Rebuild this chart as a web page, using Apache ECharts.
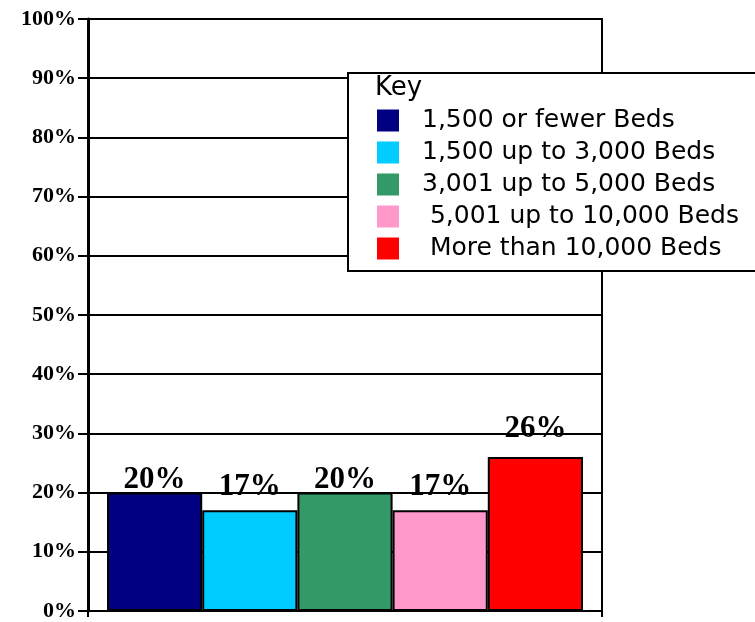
<!DOCTYPE html>
<html>
<head>
<meta charset="utf-8">
<script src="https://cdn.jsdelivr.net/npm/echarts@6/dist/echarts.min.js"></script>
<style>html,body{margin:0;padding:0;background:#fff;}#c{width:755px;height:622px;}</style>
</head>
<body>
<div id="c"></div>
<script>
const categories = ['Beds'];
const seriesNames = ['1,500 or fewer Beds', '1,500 up to 3,000 Beds', '3,001 up to 5,000 Beds', ' 5,001 up to 10,000 Beds', ' More than 10,000 Beds'];
const values = [20, 17, 20, 17, 26];
const colors = ['#000080', '#00CCFF', '#339966', '#FF99CC', '#FF0000'];
const labelDistances = [-3, 8, -3, 8, 13];
const legendTitle = 'Key';

const chart = echarts.init(document.getElementById('c'), null, {renderer: 'canvas'});
const serif = '"Liberation Serif", "Times New Roman", serif';
const sans = '"DejaVu Sans", Verdana, sans-serif';

const series = seriesNames.map((name, i) => ({
  name: name,
  type: 'bar',
  data: [values[i]],
  barGap: '0%',
  barCategoryGap: '7.4%',
  itemStyle: {color: colors[i], borderColor: '#000', borderWidth: 2},
  label: {
    show: true,
    position: 'top',
    distance: labelDistances[i],
    formatter: '{c}%',
    fontFamily: serif,
    fontWeight: 'bold',
    fontSize: 31,
    color: '#000'
  },
  emphasis: {disabled: true}
}));

chart.setOption({
  animation: false,
  color: colors,
  grid: {left: 88, right: 153, top: 19, bottom: 8, show: true, borderColor: '#000', borderWidth: 2, containLabel: false},
  xAxis: {
    type: 'category',
    data: categories,
    axisLine: {lineStyle: {color: '#000', width: 2}},
    axisTick: {show: true, length: 6, lineStyle: {color: '#000', width: 2}},
    axisLabel: {show: false}
  },
  yAxis: {
    type: 'value',
    min: 0, max: 100, interval: 10,
    axisLine: {show: true, lineStyle: {color: '#000', width: 3}},
    axisTick: {show: true, length: 10, lineStyle: {color: '#000', width: 2}},
    splitLine: {lineStyle: {color: '#000', width: 2}},
    axisLabel: {
      formatter: '{value}%',
      fontFamily: serif, fontWeight: 'bold', fontSize: 22, color: '#000', margin: 12
    }
  },
  legend: {
    orient: 'vertical',
    left: 348, top: 73,
    padding: [35, 140, 10, 29],
    backgroundColor: '#fff',
    borderColor: '#000',
    borderWidth: 2,
    itemWidth: 22, itemHeight: 22,
    itemGap: 7,
    icon: 'rect',
    selectedMode: false,
    data: seriesNames,
    itemStyle: {borderWidth: 0},
    textStyle: {fontFamily: sans, fontSize: 25, color: '#000', lineHeight: 25, padding: [0, 0, 0, 18]},
    z: 10
  },
  graphic: [{
    type: 'text', left: 375, top: 75, z: 100,
    style: {text: legendTitle, font: '26px ' + sans, fill: '#000'}
  }],
  series: series
});
</script>
</body>
</html>
